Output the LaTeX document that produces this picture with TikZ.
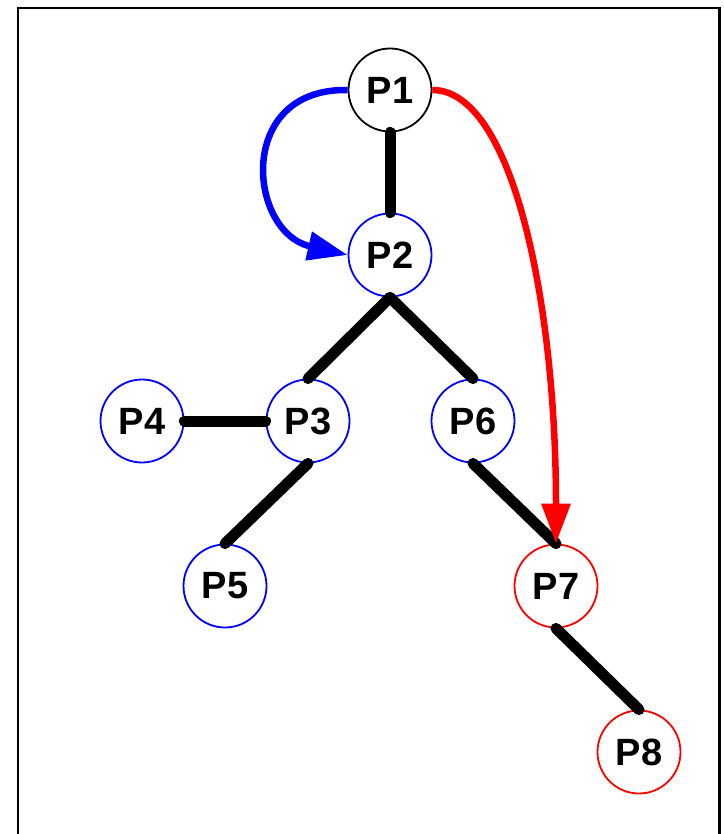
\documentclass[tikz,border=0pt]{standalone}
\usepackage{fontspec}
\setmainfont{Liberation Sans}
\usetikzlibrary{arrows.meta}
\begin{document}
\begin{tikzpicture}[x=1pt,y=-1pt,
  pnode/.style={circle,draw=#1,line width=1.8pt,minimum size=83pt,inner sep=0pt,
    font=\fontsize{38}{38}\selectfont\bfseries},
  tree/.style={line width=11pt,line cap=round},
  jump/.style={line width=6.5pt,-{Triangle[length=40pt,width=28pt]}}]
\useasboundingbox (0,0) rectangle (723,834);
\draw[line width=2.6pt] (18,860) -- (18,8) -- (719.5,8) -- (719.5,860);
\node[pnode=black] (p1) at (390,90) {P1};
\node[pnode=blue]  (p2) at (390,255) {P2};
\node[pnode=blue]  (p3) at (308,421) {P3};
\node[pnode=blue]  (p4) at (142,421) {P4};
\node[pnode=blue]  (p5) at (225,586) {P5};
\node[pnode=blue]  (p6) at (473,421) {P6};
\node[pnode=red]   (p7) at (556,586) {P7};
\node[pnode=red]   (p8) at (639,752) {P8};
\draw[tree] (p1.south) -- (p2.north);
\draw[tree] (p2.south) -- (p3.north);
\draw[tree] (p2.south) -- (p6.north);
\draw[tree] (p4.east) -- (p3.west);
\draw[tree] (p3.south) -- (p5.north);
\draw[tree] (p6.south) -- (p7.north);
\draw[tree] (p7.south) -- (p8.north);
\draw[jump,blue] (p1.west) .. controls (235,88) and (248,232) .. (p2.west);
\draw[jump,red] (p1.east) .. controls (512,90) and (556,300) .. (p7.north);
\end{tikzpicture}
\end{document}
